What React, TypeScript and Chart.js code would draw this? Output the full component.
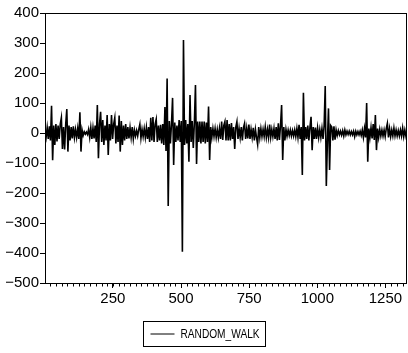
import React, { useEffect, useRef } from "react";
import { Chart, registerables } from "chart.js";

Chart.register(...registerables);

const SERIES_LABEL = "RANDOM_WALK";
const FIRST_OBS = 1;
const OBS_STEP = 4;
const LAST_OBS = 1329;

const walk: number[] = [
  5, -15, 18, -20, 22, -25, 91, -91, 25, -40,
  30, -28, 25, -20, 30, 51, -53, 20, -55, 30,
  80, -62, 25, -25, 20, -18, 22, -15, 12, -15,
  15, -20, 69, -62, 10, -8, 4, -4, 3, -5,
  12, -15, 18, -20, 17, -18, 25, -30, 93, -84,
  30, 71, -30, 43, -40, 25, -25, 60, -73, 30,
  -25, 60, -20, 30, 51, -35, 25, -30, 58, -62,
  40, -40, 25, -25, 30, -20, 20, -18, 18, -15,
  20, -20, 10, -10, 8, -10, 12, 29, -17, 12,
  -12, 15, -15, 18, -20, 20, -30, 51, -25, 53,
  -30, 30, 46, -30, 25, -25, 27, -35, 30, -40,
  87, -60, 182, -243, 40, -35, 30, 117, -107, 35,
  -30, 25, -25, 43, -30, 40, -396, 310, -40, 43,
  -35, 30, -96, 127, -30, 40, -50, 35, 160, -103,
  38, -30, 38, -35, 38, -30, 38, -35, 35, -30,
  88, -90, 20, -15, 15, -12, 15, -15, 12, -15,
  15, -20, 38, -23, 25, 38, -25, 43, -25, 30,
  -25, 33, -20, 20, -53, 20, 38, -20, 15, -15,
  20, -25, 18, 32, -20, 15, -18, 28, -20, 12,
  -15, 17, -25, 12, -15, -38, 20, -15, 15, -12,
  12, -12, 20, -15, 12, -15, 28, -15, 12, -12,
  15, -20, 20, -25, 32, -23, 25, 93, -90, 20,
  -25, 12, -10, 10, -8, 10, -10, 8, -10, 10,
  -12, 15, -15, 27, -20, 20, -140, 134, -25, 20,
  -20, 25, -25, 20, 54, -57, 20, -20, 18, -20,
  17, -15, 12, -15, 15, -20, 25, 157, -177, -30,
  82, -123, 25, 20, -25, 22, -22, 10, -8, 8,
  -6, 6, -7, 8, -10, 10, -6, 6, -5, 6,
  -6, 5, -6, 6, -12, 6, -6, 5, -6, 6,
  -8, 10, -15, 15, -15, 100, -96, 15, -15, 18,
  -18, 30, -23, 60, -57, 15, -15, 12, -10, 10,
  -10, 10, -12, 15, 32, -15, 15, -12, 10, -10,
  17, -10, 10, -10, 8, -10, 10, -10, 17, -12, 10, -10, 8,
];

const obs: number[] = walk.map((_, i) => FIRST_OBS + i * OBS_STEP);

const xMajorTicks = [250, 500, 750, 1000, 1250];
const X_MINOR_PER_MAJOR = 12;
const yTicks = [-500, -400, -300, -200, -100, 0, 100, 200, 300, 400];

const FONT = "'Liberation Sans', Arial, sans-serif";

const fmtNum = (v: number) => (v < 0 ? "\u2212" + String(-v) : String(v));

const framePlugin = {
  id: "frame",
  afterDraw(chart: any) {
    const { ctx, chartArea } = chart;
    const { left, right, top, bottom } = chartArea;
    ctx.save();
    ctx.strokeStyle = "#000";
    ctx.lineWidth = 1;
    ctx.strokeRect(Math.round(left) + 0.5, Math.round(top) + 0.5, Math.round(right - left) - 1, Math.round(bottom - top));
    const xs = chart.scales.x;
    const step = (xMajorTicks[1] - xMajorTicks[0]) / X_MINOR_PER_MAJOR;
    ctx.beginPath();
    for (let v = xMajorTicks[0] - step * Math.floor((xMajorTicks[0] - xs.min) / step); v <= xs.max; v += step) {
      const px = Math.round(xs.getPixelForValue(v)) + 0.5;
      ctx.moveTo(px, Math.round(bottom) + 0.5);
      ctx.lineTo(px, Math.round(bottom) + 3.5);
    }
    ctx.stroke();
    ctx.restore();
  },
};

const boxLegendPlugin = {
  id: "boxLegend",
  afterDraw(chart: any) {
    const { ctx } = chart;
    const ds = chart.data.datasets[0];
    ctx.save();
    ctx.font = `13px ${FONT}`;
    const sx = 0.78;
    const tw = ctx.measureText(ds.label).width * sx;
    const padL = 7, lineW = 24, gap = 6, padR = 6;
    const w = padL + lineW + gap + tw + padR;
    const h = 25;
    const x0 = Math.round(chart.width / 2 - w / 2) + 0.5;
    const y0 = 321.5;
    ctx.strokeStyle = "#000";
    ctx.lineWidth = 1;
    ctx.strokeRect(x0, y0, Math.round(w), h);
    ctx.beginPath();
    ctx.moveTo(x0 + padL, y0 + h / 2);
    ctx.lineTo(x0 + padL + lineW, y0 + h / 2);
    ctx.strokeStyle = ds.borderColor;
    ctx.stroke();
    ctx.fillStyle = "#000";
    ctx.textBaseline = "middle";
    ctx.translate(x0 + padL + lineW + gap, y0 + h / 2 + 0.5);
    ctx.scale(sx, 1);
    ctx.fillText(ds.label, 0, 0);
    ctx.restore();
  },
};

export default function App() {
  const ref = useRef<HTMLCanvasElement | null>(null);
  useEffect(() => {
    if (!ref.current) return;
    const chart = new Chart(ref.current, {
      type: "line",
      data: {
        datasets: [
          {
            label: SERIES_LABEL,
            data: walk.map((y, i) => ({ x: obs[i], y })),
            borderColor: "#000",
            borderWidth: 1.6,
            pointRadius: 0,
            tension: 0,
            fill: false,
          },
        ],
      },
      options: {
        animation: false,
        responsive: false,
        devicePixelRatio: 1,
        layout: { padding: { top: 13, right: 1, left: 0, bottom: 48 } },
        plugins: { legend: { display: false }, tooltip: { enabled: false } },
        scales: {
          x: {
            type: "linear",
            min: FIRST_OBS,
            max: LAST_OBS,
            afterBuildTicks: (s: any) => {
              s.ticks = xMajorTicks.map((v) => ({ value: v }));
            },
            afterFit: (s: any) => {
              s.height = 22;
            },
            border: { display: false },
            grid: { drawOnChartArea: false, drawTicks: true, tickLength: 5, tickColor: "#000", color: "#000" },
            ticks: { color: "#000", font: { family: FONT, size: 15 }, padding: 2, autoSkip: false, maxRotation: 0, callback: (v: any) => fmtNum(v) },
          },
          y: {
            type: "linear",
            min: yTicks[0],
            max: yTicks[yTicks.length - 1],
            afterBuildTicks: (s: any) => {
              s.ticks = yTicks.map((v) => ({ value: v }));
            },
            afterFit: (s: any) => {
              s.width = 45;
            },
            border: { display: false },
            grid: { drawOnChartArea: false, drawTicks: true, tickLength: 5, tickColor: "#000", color: "#000" },
            ticks: { color: "#000", font: { family: FONT, size: 15 }, padding: 1, callback: (v: any) => fmtNum(v) },
          },
        },
      },
      plugins: [framePlugin, boxLegendPlugin],
    } as any);
    return () => chart.destroy();
  }, []);
  return (
    <div style={{ position: "fixed", left: 0, top: 0, width: 408, height: 353, background: "#fff" }}>
      <canvas ref={ref} width={408} height={353} />
    </div>
  );
}
